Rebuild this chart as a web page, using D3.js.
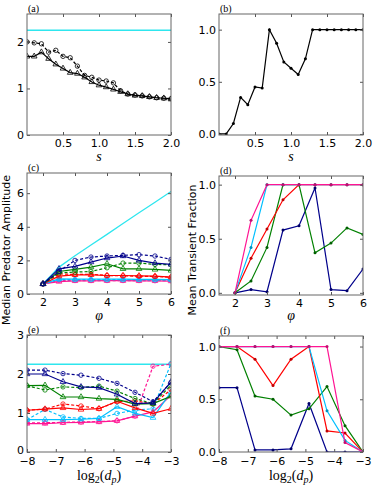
<!DOCTYPE html>
<html><head><meta charset="utf-8">
<script src="https://cdn.jsdelivr.net/npm/d3@7"></script>
<style>body{margin:0;background:#fff}svg{display:block}</style>
</head><body>
<script>
// ---------- DATA ----------
const sVals = [0,0.1,0.2,0.3,0.4,0.5,0.6,0.7,0.8,0.9,1.0,1.1,1.2,1.3,1.4,1.5,1.6,1.7,1.8,1.9,2.0];
const aTheory = 2.25;
const aDashed = [2.0,1.98,1.96,1.78,1.82,1.69,1.66,1.48,1.28,1.24,1.18,1.16,1.12,0.95,0.88,0.86,0.84,0.82,0.8,0.79,0.78];
const aSolid  = [1.69,1.69,1.78,1.64,1.52,1.43,1.34,1.32,1.24,1.14,1.07,1.03,0.98,0.93,0.88,0.85,0.84,0.82,0.8,0.79,0.77];
const bFrac   = [0,0,0.1,0.35,0.28,0.45,0.44,1.0,0.87,0.69,0.63,0.57,0.72,1.0,1,1,1,1,1,1,1];

const phiVals = [2,2.5,3,3.5,4,4.5,5,5.5,6];
const cTheory = [0.6,1.6,2.28,2.92,3.55,4.19,4.83,5.46,6.1];
const seriesNames = ["navy","green","red","cyan","magenta"];
const seriesColors = ["#00008b","#008000","#ff0000","#00bfff","#ff1493"];
const cSolid = [
  [0.6,1.5,1.64,1.9,2.14,2.26,2.0,1.84,1.76],
  [0.6,1.34,1.46,1.6,1.8,1.5,1.5,1.46,1.4],
  [0.6,1.06,1.14,1.14,1.1,1.1,1.08,1.06,1.0],
  [0.6,0.9,0.88,0.88,0.88,0.88,0.87,0.87,0.86],
  [0.6,0.74,0.78,0.78,0.79,0.79,0.78,0.78,0.77]
];
const cDashed = [
  [0.6,1.34,2.0,2.2,2.26,2.3,2.34,2.26,2.06],
  [0.6,1.26,1.3,1.34,1.56,1.84,1.84,1.76,1.74],
  [0.6,1.2,1.16,1.18,1.1,1.08,1.06,1.04,1.0],
  [0.6,0.86,0.85,0.85,0.85,0.85,0.85,0.84,0.84],
  [0.6,0.8,0.8,0.8,0.8,0.8,0.8,0.79,0.79]
];
const dFrac = [
  [0,0.03,0.01,0.58,0.62,0.97,0.03,0.02,0.22],
  [0,0.11,0.42,1.0,1.0,0.37,0.46,0.6,0.54],
  [0,0.32,0.59,0.86,1,1,1,1,1],
  [0,0.42,1,1,1,1,1,1,1],
  [0,0.67,1,1,1,1,1,1,1]
];

const ldpVals = [-8,-7.375,-6.75,-6.125,-5.5,-4.875,-4.25,-3.625,-3];
const eTheory = 2.25;
const eSolid = [
  [2.0,2.0,1.8,1.67,1.65,1.48,1.24,1.26,1.8],
  [1.7,1.71,1.41,1.41,1.37,1.35,1.23,1.24,1.43],
  [1.07,1.1,1.13,1.09,1.11,1.3,1.13,0.99,1.11],
  [0.83,0.83,0.83,0.84,0.86,1.16,0.99,0.88,1.54],
  [0.73,0.73,0.75,0.76,0.77,0.8,0.92,1.03,1.45]
];
const eDashed = [
  [2.1,2.1,2.01,1.97,1.89,1.76,1.53,1.29,1.78],
  [1.7,1.59,1.67,1.65,1.69,1.56,1.37,1.24,1.71],
  [1.07,1.1,1.23,1.18,1.11,1.29,1.31,1.23,1.6],
  [0.83,1.09,0.9,0.86,0.86,0.99,1.07,1.11,2.27],
  [0.75,0.75,0.76,0.77,0.78,0.8,0.92,2.2,2.25]
];
const fFrac = [
  [0.61,0.61,0.02,0.02,0.03,0.46,0,0,0],
  [1.0,0.97,0.53,0.5,0.35,0.41,0.62,0.25,0],
  [1.0,1.0,0.88,0.63,0.88,1.0,0.2,0.18,0],
  [1,1,1,1,1,1,0.39,0.11,0],
  [1,1,1,1,1,1,1,0.09,0]
];

const ticksS = [0.5,1.0,1.5,2.0];
const ticksAY = [0,1,2];
const ticksFrac = [0,0.5,1.0];
const ticksPhi = [2,3,4,5,6];
const ticksCY = [0,2,4,6];
const ticksLdp = [-8,-7,-6,-5,-4,-3];
const ticksEY = [0,1,2,3];

// ---------- DRAW ----------
const W = 390, H = 502;
const svg = d3.select("body").append("svg").attr("width", W).attr("height", H);
const theoryColor = "#2ee6ee";

function panel(o) {
  const g = svg.append("g");
  const x = d3.scaleLinear().domain(o.xd).range([o.x0, o.x1]);
  const y = d3.scaleLinear().domain(o.yd).range([o.y1, o.y0]);
  const clipId = "clip" + o.label;
  svg.append("clipPath").attr("id", clipId).append("rect")
    .attr("x", o.x0).attr("y", o.y0).attr("width", o.x1 - o.x0).attr("height", o.y1 - o.y0);
  const plot = g.append("g").attr("clip-path", `url(#${clipId})`);
  const axB = d3.axisBottom(x).tickValues(o.xt).tickSize(-3).tickPadding(o.xpad || 4).tickFormat(o.xfmt);
  const axT = d3.axisTop(x).tickValues(o.xt).tickSize(-3).tickFormat("");
  const axL = d3.axisLeft(y).tickValues(o.yt).tickSize(-3).tickPadding(3).tickFormat(o.fmt);
  const axR = d3.axisRight(y).tickValues(o.yt).tickSize(-3).tickFormat("");
  function style(sel) {
    sel.select(".domain").remove();
    sel.selectAll(".tick line").attr("stroke", "#555");
    sel.selectAll("text").attr("font-family", "DejaVu Sans").attr("font-size", 11).attr("fill", "#000");
  }
  g.append("g").attr("transform", `translate(0,${o.y1})`).call(axB).call(style);
  g.append("g").attr("transform", `translate(0,${o.y0})`).call(axT).call(style);
  const gl = g.append("g").attr("transform", `translate(${o.x0},0)`).call(axL).call(style);
  if (o.liftZero) gl.selectAll(".tick text").filter(d => d === 0).attr("dy", "0.1em");
  g.append("g").attr("transform", `translate(${o.x1},0)`).call(axR).call(style);
  g.append("rect").attr("x", o.x0).attr("y", o.y0).attr("width", o.x1 - o.x0).attr("height", o.y1 - o.y0)
    .attr("fill", "none").attr("stroke", "#666").attr("stroke-width", 1);
  g.append("text").attr("x", o.x0 + 1).attr("y", o.y0 - 2).text(`(${o.label})`)
    .attr("font-family", "Liberation Serif").attr("font-size", 10);
  return {g, plot, x, y};
}

function line(p, xs, ys, color, dashed, marker, width) {
  const ln = d3.line().x((d, i) => p.x(xs[i])).y(d => p.y(d));
  p.plot.append("path").datum(ys).attr("d", ln).attr("fill", "none").attr("stroke", color)
    .attr("stroke-width", width || 1.2).attr("stroke-dasharray", dashed ? "3,2" : null);
  if (!marker) return;
  const m = p.plot.append("g");
  ys.forEach((v, i) => {
    const cx = p.x(xs[i]), cy = p.y(v);
    if (marker === "circle") {
      m.append("circle").attr("cx", cx).attr("cy", cy).attr("r", 2.2)
        .attr("fill", "none").attr("stroke", color).attr("stroke-width", 0.8);
    } else if (marker === "tri") {
      m.append("path").attr("d", d3.symbol(d3.symbolTriangle, 14)()).attr("transform", `translate(${cx},${cy})`)
        .attr("fill", "none").attr("stroke", color).attr("stroke-width", 0.8);
    } else if (marker === "dot") {
      m.append("circle").attr("cx", cx).attr("cy", cy).attr("r", 1.5)
        .attr("fill", d3.color(color).darker(0.8)).attr("stroke", "none");
    }
  });
}

function hline(p, v, xd, color) {
  p.plot.append("line").attr("x1", p.x(xd[0])).attr("x2", p.x(xd[1])).attr("y1", p.y(v)).attr("y2", p.y(v))
    .attr("stroke", color).attr("stroke-width", 1.5);
}

const LX0 = 27, LX1 = 171, RX0 = 219, RX1 = 363;
const f1 = d3.format(".1f");

// (a)
const pa = panel({label:"a", x0:LX0, x1:LX1, y0:14, y1:135, xd:[0,2], yd:[0,2.6], xt:ticksS, yt:ticksAY, xfmt:f1, fmt:d3.format("d")});
hline(pa, aTheory, [0,2], theoryColor);
line(pa, sVals, aDashed, "#000", true, "circle");
line(pa, sVals, aSolid, "#000", false, "tri");

// (b)
const pb = panel({label:"b", x0:RX0, x1:RX1, y0:14, y1:135, xd:[0,2], yd:[-0.01,1.15], xt:ticksS, yt:ticksFrac, xfmt:f1, fmt:f1});
line(pb, sVals, bFrac, "#000", false, "dot");

// (c)
const pc = panel({label:"c", x0:LX0, x1:LX1, y0:173, y1:294, xd:[1.5,6], yd:[0,7.2], xt:ticksPhi, yt:ticksCY, xfmt:d3.format("d"), fmt:d3.format("d")});
line(pc, phiVals, cTheory, theoryColor, false, null, 1.3);
for (let k = 4; k >= 0; k--) {
  line(pc, phiVals, cDashed[k], seriesColors[k], true, "circle");
  line(pc, phiVals, cSolid[k], seriesColors[k], false, "tri");
}

// (d)
const pd = panel({label:"d", x0:RX0, x1:RX1, y0:176, y1:295, xd:[1.5,6], yd:[-0.02,1.08], xt:ticksPhi, yt:ticksFrac, xfmt:d3.format("d"), fmt:f1});
for (let k = 0; k < 5; k++) line(pd, phiVals, dFrac[k], seriesColors[k], false, "dot");

// (e)
const pe = panel({label:"e", x0:LX0, x1:LX1, y0:335, y1:452, xd:[-8,-3], yd:[0,3], xt:ticksLdp, yt:ticksEY, xfmt:d3.format("d"), fmt:d3.format("d"), xpad:5, liftZero:true});
hline(pe, eTheory, [-8,-3], theoryColor);
for (let k = 4; k >= 0; k--) {
  line(pe, ldpVals, eDashed[k], seriesColors[k], true, "circle");
  line(pe, ldpVals, eSolid[k], seriesColors[k], false, "tri");
}

// (f)
const pf = panel({label:"f", x0:RX0, x1:RX1, y0:336, y1:452, xd:[-8,-3], yd:[0,1.1], xt:ticksLdp, yt:ticksFrac, xfmt:d3.format("d"), fmt:f1, xpad:5});
for (let k = 0; k < 5; k++) line(pf, ldpVals, fFrac[k], seriesColors[k], false, "dot");

// axis labels
function xlab(xc, yb, html) {
  const t = svg.append("text").attr("x", xc).attr("y", yb).attr("text-anchor", "middle")
    .attr("font-family", "Liberation Serif").attr("font-size", 14);
  html(t);
}
[[99,161],[291,161]].forEach(([cx,cy]) => xlab(cx, cy, t => t.append("tspan").attr("font-style","italic").text("s")));
[[99,320],[291,320]].forEach(([cx,cy]) => xlab(cx, cy, t => t.append("tspan").attr("font-style","italic").text("φ")));
[[99,480],[291,480]].forEach(([cx,cy]) => xlab(cx, cy, t => {
  t.append("tspan").text("log");
  t.append("tspan").attr("font-size", 10).attr("dy", 3).text("2");
  t.append("tspan").attr("dy", -3).text("(");
  t.append("tspan").attr("font-style","italic").text("d");
  t.append("tspan").attr("font-style","italic").attr("font-size", 10).attr("dy", 3).text("p");
  t.append("tspan").attr("dy", -3).text(")");
}));
svg.append("text").attr("transform", "translate(10,250) rotate(-90)").attr("text-anchor", "middle")
  .attr("font-family", "DejaVu Sans").attr("font-size", 11).text("Median Predator Amplitude");
svg.append("text").attr("transform", "translate(196,250) rotate(-90)").attr("text-anchor", "middle")
  .attr("font-family", "DejaVu Sans").attr("font-size", 11).text("Mean Transient Fraction");
</script>
</body></html>
